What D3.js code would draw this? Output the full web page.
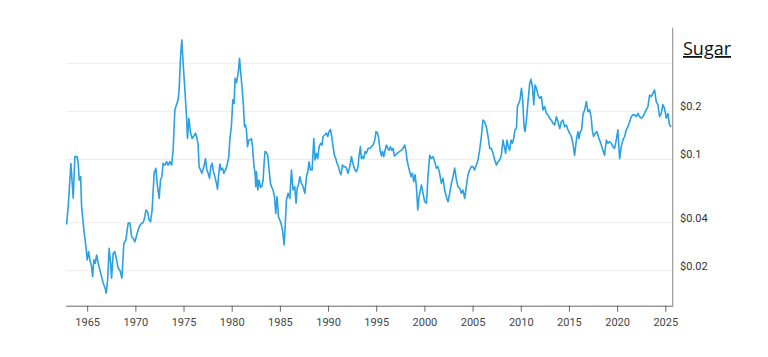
<!DOCTYPE html>
<html>
<head>
<meta charset="utf-8">
<script src="https://cdn.jsdelivr.net/npm/d3@7"></script>
<style>
  html, body { margin: 0; padding: 0; background: #fff; }
  svg { display: block; }
</style>
</head>
<body>
<svg id="chart" width="768" height="357"></svg>
<script>
// ---- data ----
const title = "Sugar";
const xTickYears = [1965, 1970, 1975, 1980, 1985, 1990, 1995, 2000, 2005, 2010, 2015, 2020, 2025];
const yTickValues = [0.02, 0.04, 0.1, 0.2];
const yTickLabels = ["$0.02", "$0.04", "$0.1", "$0.2"];
const gridValues = [0.02, 0.04, 0.1, 0.2, 0.4];

const years = [
1962.86,1963.03,1963.31,1963.55,1963.72,1963.96,1964.07,1964.17,1964.32,1964.42,
1964.66,1964.87,1965.00,1965.15,1965.28,1965.46,1965.56,1965.70,1965.83,1965.98,
1966.14,1966.32,1966.49,1966.66,1966.87,1966.97,1967.12,1967.28,1967.43,1967.53,
1967.70,1967.87,1968.05,1968.22,1968.39,1968.60,1968.81,1969.01,1969.25,1969.43,
1969.61,1969.77,1969.95,1970.19,1970.39,1970.64,1970.81,1970.99,1971.09,1971.27,
1971.43,1971.58,1971.74,1971.95,1972.13,1972.26,1972.47,1972.61,1972.75,1972.88,
1973.06,1973.24,1973.40,1973.58,1973.76,1973.92,1974.10,1974.27,1974.44,1974.54,
1974.69,1974.82,1974.96,1975.14,1975.31,1975.41,1975.55,1975.73,1975.89,1976.07,
1976.24,1976.41,1976.51,1976.62,1976.76,1976.90,1977.11,1977.28,1977.39,1977.55,
1977.70,1977.83,1977.97,1978.11,1978.25,1978.42,1978.53,1978.66,1978.77,1978.90,
1979.05,1979.18,1979.36,1979.52,1979.70,1979.80,1979.98,1980.11,1980.25,1980.35,
1980.50,1980.60,1980.71,1980.81,1980.94,1981.08,1981.22,1981.33,1981.43,1981.53,
1981.64,1981.77,1981.91,1982.05,1982.16,1982.22,1982.32,1982.43,1982.50,1982.57,
1982.71,1982.84,1982.99,1983.12,1983.26,1983.36,1983.46,1983.61,1983.74,1983.88,
1984.02,1984.13,1984.29,1984.44,1984.57,1984.71,1984.85,1984.99,1985.12,1985.27,
1985.44,1985.58,1985.68,1985.85,1986.03,1986.20,1986.37,1986.54,1986.68,1986.79,
1986.93,1987.07,1987.24,1987.41,1987.59,1987.76,1987.93,1988.03,1988.17,1988.34,
1988.52,1988.65,1988.80,1988.93,1989.07,1989.24,1989.38,1989.48,1989.66,1989.83,
1989.97,1990.10,1990.25,1990.38,1990.52,1990.66,1990.80,1990.93,1991.08,1991.21,
1991.35,1991.49,1991.63,1991.76,1991.91,1992.07,1992.25,1992.43,1992.53,1992.67,
1992.80,1992.95,1993.11,1993.22,1993.36,1993.46,1993.57,1993.70,1993.84,1993.98,
1994.15,1994.33,1994.50,1994.67,1994.85,1994.98,1995.13,1995.26,1995.40,1995.54,
1995.65,1995.78,1995.92,1996.06,1996.19,1996.33,1996.47,1996.61,1996.74,1996.89,
1997.10,1997.26,1997.44,1997.61,1997.78,1997.96,1998.09,1998.20,1998.34,1998.48,
1998.61,1998.76,1998.89,1999.03,1999.17,1999.31,1999.44,1999.69,1999.86,2000.03,
2000.21,2000.37,2000.55,2000.72,2000.89,2001.07,2001.24,2001.41,2001.58,2001.76,
2001.93,2002.10,2002.28,2002.45,2002.62,2002.80,2002.97,2003.14,2003.32,2003.49,
2003.66,2003.84,2004.00,2004.18,2004.35,2004.52,2004.69,2004.87,2005.04,2005.21,
2005.39,2005.56,2005.73,2005.91,2006.08,2006.25,2006.43,2006.60,2006.78,2006.95,
2007.12,2007.30,2007.47,2007.64,2007.81,2007.99,2008.15,2008.33,2008.43,2008.57,
2008.71,2008.85,2008.99,2009.13,2009.27,2009.40,2009.55,2009.65,2009.79,2009.92,
2010.07,2010.20,2010.34,2010.44,2010.59,2010.75,2010.93,2011.06,2011.21,2011.35,
2011.48,2011.63,2011.80,2011.97,2012.14,2012.31,2012.48,2012.66,2012.82,2013.00,
2013.17,2013.34,2013.52,2013.70,2013.86,2014.04,2014.21,2014.38,2014.55,2014.73,
2014.90,2015.07,2015.25,2015.41,2015.59,2015.77,2015.93,2016.04,2016.18,2016.32,
2016.45,2016.63,2016.81,2016.97,2017.15,2017.32,2017.42,2017.56,2017.74,2017.90,
2018.05,2018.18,2018.36,2018.53,2018.70,2018.88,2019.05,2019.22,2019.40,2019.56,
2019.74,2019.91,2020.08,2020.26,2020.43,2020.60,2020.78,2020.95,2021.12,2021.30,
2021.47,2021.64,2021.82,2021.99,2022.16,2022.33,2022.51,2022.68,2022.85,2023.02,
2023.20,2023.37,2023.55,2023.71,2023.89,2024.06,2024.23,2024.41,2024.58,2024.75,
2024.92,2025.10,2025.27,2025.44,2025.61
];

const prices = [
0.039,0.0505,0.094,0.057,0.104,0.104,0.094,0.074,0.078,0.0505,
0.036,0.0283,0.0234,0.0264,0.0234,0.0212,0.0184,0.0234,0.0223,0.0251,
0.0223,0.0202,0.0184,0.0167,0.0155,0.0145,0.0175,0.0277,0.0223,0.018,
0.0257,0.0264,0.0234,0.0207,0.0202,0.018,0.0297,0.0312,0.0397,0.040,
0.0327,0.032,0.0304,0.0344,0.0378,0.0397,0.040,0.0437,0.0481,0.0469,
0.0416,0.0406,0.0481,0.0817,0.0878,0.0707,0.0569,0.0742,0.0778,0.0944,
0.092,0.0966,0.092,0.0966,0.092,0.114,0.204,0.220,0.236,0.272,
0.440,0.560,0.400,0.272,0.185,0.135,0.181,0.146,0.135,0.140,
0.146,0.135,0.123,0.090,0.0857,0.0817,0.090,0.101,0.088,0.0817,
0.076,0.090,0.0944,0.0836,0.0778,0.0707,0.0649,0.0817,0.0934,0.0857,
0.088,0.0817,0.0857,0.092,0.104,0.132,0.164,0.236,0.224,0.322,
0.302,0.330,0.363,0.430,0.346,0.279,0.214,0.160,0.164,0.153,
0.120,0.132,0.132,0.135,0.120,0.106,0.090,0.0817,0.0673,0.0836,
0.0642,0.0742,0.0668,0.0673,0.0742,0.0944,0.112,0.110,0.106,0.0857,
0.0707,0.0673,0.0642,0.0583,0.0458,0.0583,0.0437,0.0416,0.0397,0.036,
0.029,0.0416,0.0556,0.0612,0.0569,0.0857,0.0642,0.0673,0.053,0.0658,
0.069,0.0778,0.0707,0.0673,0.0612,0.0778,0.0857,0.0966,0.0857,0.0857,
0.135,0.099,0.109,0.101,0.120,0.126,0.123,0.139,0.142,0.146,
0.139,0.149,0.154,0.139,0.120,0.106,0.101,0.0944,0.090,0.0836,
0.080,0.092,0.090,0.090,0.088,0.0817,0.090,0.104,0.0966,0.090,
0.0857,0.0836,0.090,0.106,0.120,0.101,0.104,0.101,0.112,0.109,
0.117,0.117,0.120,0.123,0.132,0.149,0.146,0.135,0.114,0.105,
0.112,0.104,0.114,0.123,0.117,0.114,0.120,0.114,0.117,0.105,
0.108,0.110,0.112,0.114,0.117,0.123,0.112,0.099,0.090,0.0836,
0.0778,0.0817,0.0724,0.080,0.0673,0.0481,0.0583,0.069,0.0612,0.0542,
0.053,0.0778,0.106,0.101,0.104,0.0966,0.088,0.090,0.0817,0.0707,
0.076,0.0642,0.0583,0.0542,0.0612,0.0707,0.0778,0.088,0.0742,0.0673,
0.0658,0.0612,0.0642,0.0569,0.0673,0.080,0.0857,0.090,0.090,0.0857,
0.092,0.099,0.114,0.139,0.176,0.172,0.160,0.139,0.117,0.117,
0.109,0.099,0.092,0.0966,0.099,0.106,0.132,0.117,0.109,0.132,
0.120,0.114,0.132,0.126,0.135,0.153,0.156,0.214,0.224,0.236,
0.279,0.236,0.160,0.149,0.176,0.230,0.300,0.318,0.285,0.220,
0.292,0.279,0.253,0.241,0.247,0.204,0.214,0.194,0.190,0.181,
0.176,0.168,0.164,0.185,0.172,0.156,0.172,0.176,0.160,0.164,
0.153,0.146,0.139,0.126,0.106,0.132,0.149,0.135,0.149,0.153,
0.190,0.204,0.230,0.199,0.204,0.181,0.153,0.139,0.146,0.149,
0.139,0.132,0.123,0.114,0.106,0.132,0.126,0.129,0.126,0.120,
0.117,0.132,0.153,0.101,0.120,0.132,0.139,0.153,0.160,0.172,
0.185,0.190,0.190,0.185,0.194,0.185,0.181,0.185,0.194,0.204,
0.214,0.253,0.247,0.259,0.272,0.230,0.220,0.185,0.194,0.220,
0.209,0.181,0.194,0.164,0.160
];

// ---- layout ----
const plotLeft = 65.7, plotRight = 672.7, plotTop = 27.7, plotBottom = 305.7;

const svg = d3.select("#chart");

const x = d3.scaleLinear()
  .domain([1962.77, 2025.77])
  .range([plotLeft, plotRight]);

// log scale: 0.1 sits at y=159.3, one decade = 159.5px
const y = d3.scaleLog()
  .domain([0.01, 1])
  .range([159.3 + 159.5, 159.3 - 159.5]);

const n = Math.min(years.length, prices.length);
const series = d3.range(n).map(i => ({ t: years[i], v: prices[i] }));

// gridlines
svg.append("g")
  .selectAll("line")
  .data(gridValues)
  .join("line")
  .attr("x1", plotLeft)
  .attr("x2", plotRight)
  .attr("y1", d => y(d))
  .attr("y2", d => y(d))
  .attr("stroke", "#ececec")
  .attr("stroke-width", 1);

// bottom axis
const xAxis = d3.axisBottom(x)
  .tickValues(xTickYears)
  .tickFormat(d3.format("d"))
  .tickSize(6)
  .tickSizeOuter(0);

const gx = svg.append("g")
  .attr("transform", `translate(0,${plotBottom})`)
  .call(xAxis);
gx.select(".domain").attr("stroke", "#666");
gx.selectAll(".tick line").attr("stroke", "#666");
gx.selectAll(".tick text")
  .attr("fill", "#444")
  .attr("dy", "1.05em")
  .style("font-family", "Roboto, 'Noto Sans', sans-serif")
  .style("font-size", "11px");

// right axis line
svg.append("line")
  .attr("x1", plotRight).attr("x2", plotRight)
  .attr("y1", plotTop).attr("y2", plotBottom)
  .attr("stroke", "#888")
  .attr("stroke-width", 1);

// right tick labels (no tick marks)
svg.append("g")
  .selectAll("text")
  .data(yTickValues)
  .join("text")
  .attr("x", 680)
  .attr("y", d => y(d) - 1)
  .attr("fill", "#333")
  .style("font-family", "Roboto, 'Noto Sans', sans-serif")
  .style("font-size", "11px")
  .text((d, i) => yTickLabels[i]);

// line
const line = d3.line()
  .x(d => x(d.t))
  .y(d => y(d.v));

svg.append("path")
  .datum(series)
  .attr("fill", "none")
  .attr("stroke", "#29a1e2")
  .attr("stroke-width", 1.6)
  .attr("stroke-linejoin", "round")
  .attr("d", line);

// title
svg.append("text")
  .attr("x", 683)
  .attr("y", 55)
  .attr("fill", "#111")
  .style("font-family", "'Open Sans', 'Noto Sans', sans-serif")
  .style("font-size", "18px")
  .style("text-decoration", "underline")
  .text(title);
</script>
</body>
</html>
